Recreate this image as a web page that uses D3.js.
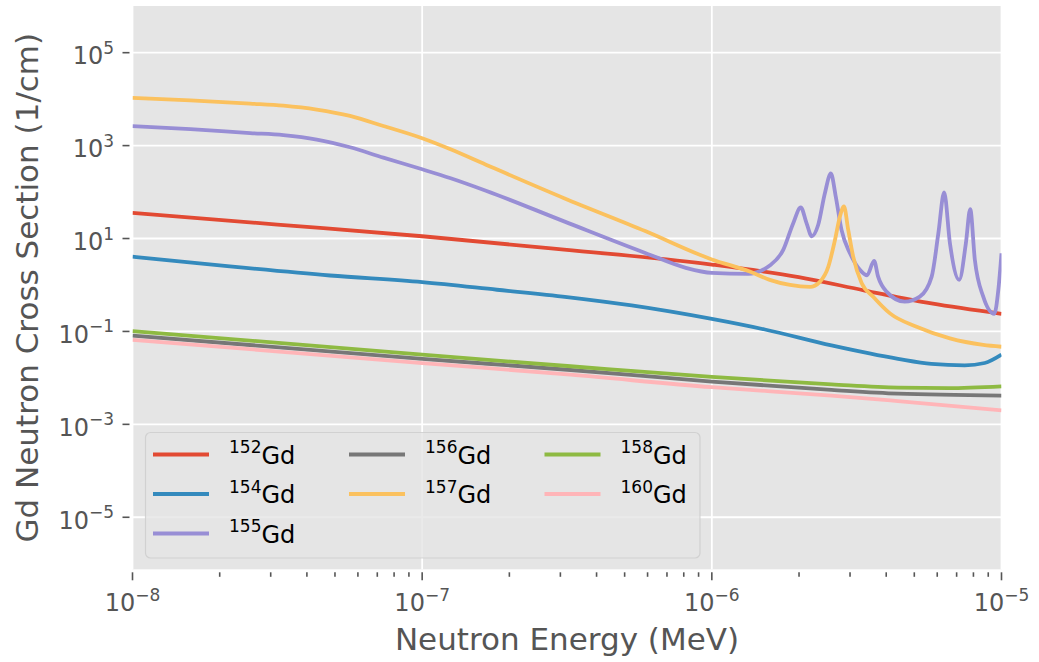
<!DOCTYPE html>
<html>
<head>
<meta charset="utf-8">
<script src="https://cdn.jsdelivr.net/npm/d3@7"></script>
<style>
  html, body { margin: 0; padding: 0; background: #ffffff; }
  svg { display: block; font-family: "DejaVu Sans", sans-serif; }
</style>
</head>
<body>
<svg id="chart" width="1039" height="662"></svg>
<script>
// Gd isotope neutron cross sections: [energy (MeV), cross section (1/cm)]
const isotopes = ["152", "154", "155", "156", "157", "158", "160"];
const colors = ["#E24A33", "#348ABD", "#988ED5", "#777777", "#FBC15E", "#8EBA42", "#FFB5B8"];

const gd152 = [[1e-8,35.5],[3.162e-8,20.0],[1e-7,11.2],[3.09e-7,5.75],[1e-6,2.75],
  [1.995e-6,1.48],[3.373e-6,0.76],[5.728e-6,0.40],[1e-5,0.24]];

const gd154 = [[1e-8,4.07],[2.168e-8,2.51],[4.808e-8,1.60],[1e-7,1.15],[1.811e-7,0.79],
  [3.162e-7,0.55],[5.284e-7,0.363],[1e-6,0.186],[1.524e-6,0.110],[2.588e-6,0.050],
  [4.395e-6,0.0257],[5.728e-6,0.020],[7.464e-6,0.0186],[8.75e-6,0.0209],[1e-5,0.0316]];

const gd155 = [[1e-8,2630],[1.585e-8,2265],[2.547e-8,1862],[3.319e-8,1679],[4.325e-8,1349],
  [5.636e-8,920],[7.345e-8,550],[1e-7,309],[1.247e-7,201],[1.66e-7,107],[3.09e-7,23.4],
  [5.888e-7,4.9],[8.128e-7,2.34],
  [1e-6,1.82],[1.334e-6,1.74],[1.585e-6,2.63],[1.762e-6,5.6],[1.91e-6,21.4],[2.028e-6,46.8],
  [2.123e-6,21.4],[2.213e-6,11.2],[2.328e-6,19.5],[2.455e-6,93],[2.576e-6,251],[2.679e-6,79],
  [2.805e-6,15.1],[2.999e-6,4.8],[3.251e-6,2.09],[3.436e-6,1.62],[3.631e-6,3.31],[3.75e-6,1.51],
  [4.009e-6,0.72],[4.634e-6,0.437],[5.224e-6,0.56],[5.741e-6,1.51],[6.053e-6,12.9],
  [6.339e-6,98],[6.637e-6,7.9],[7.145e-6,1.29],[7.534e-6,7.9],[7.798e-6,42.7],[8.091e-6,3.47],
  [8.65e-6,0.56],[9.441e-6,0.24],[9.75e-6,0.78],[1e-5,4.8]];

const gd156 = [[1e-8,0.0813],[1e-7,0.0257],[3.251e-7,0.0148],[1e-6,0.00832],
  [2.588e-6,0.0055],[4.395e-6,0.00457],[1e-5,0.00417]];

const gd157 = [[1e-8,10700],[1.585e-8,9440],[2.547e-8,8035],[3.319e-8,7244],[4.325e-8,5957],
  [5.636e-8,4345],[7.345e-8,2642],[1e-7,1440],[1.247e-7,845],[1.66e-7,389],[3.09e-7,74],
  [5.888e-7,14.5],[1e-6,3.55],
  [1.352e-6,1.95],[1.585e-6,1.29],[1.862e-6,1.0],[2.183e-6,0.91],[2.36e-6,1.17],[2.523e-6,2.45],
  [2.661e-6,9.3],[2.767e-6,29.5],[2.858e-6,49],[2.958e-6,15.1],[3.076e-6,4.07],[3.289e-6,1.10],
  [3.606e-6,0.56],[4.121e-6,0.245],[5.093e-6,0.126],[6.637e-6,0.0708],[8.65e-6,0.0513],[1e-5,0.0468]];

const gd158 = [[1e-8,0.102],[1e-7,0.0316],[3.251e-7,0.0178],[1e-6,0.0105],
  [2.588e-6,0.00724],[4.395e-6,0.00617],[6.546e-6,0.00603],[1e-5,0.0066]];

const gd160 = [[1e-8,0.066],[1e-7,0.0209],[3.251e-7,0.0117],[1e-6,0.0063],
  [2.588e-6,0.00417],[4.395e-6,0.00316],[1e-5,0.0020]];

const seriesData = [gd152, gd154, gd155, gd156, gd157, gd158, gd160];

// Axis ticks (exponents of ten)
const xTickExps = [-8, -7, -6, -5];
const yTickExps = [-5, -3, -1, 1, 3, 5];

const xLabel = "Neutron Energy (MeV)";
const yLabel = "Gd Neutron Cross Section (1/cm)";

// ---- layout ----
const svg = d3.select("#chart");
const plot = { left: 132.5, right: 1001.5, top: 6, bottom: 569.3 };

const x = d3.scaleLog().domain([1e-8, 1e-5]).range([plot.left, plot.right]);
const y = d3.scaleLog().domain([Math.pow(10, -6.12), Math.pow(10, 6.005)]).range([plot.bottom, plot.top]);

const tickGray = "#555555";
const minus = "\u2212";

// background
svg.append("rect")
  .attr("x", plot.left).attr("y", plot.top)
  .attr("width", plot.right - plot.left).attr("height", plot.bottom - plot.top)
  .attr("fill", "#E5E5E5");

// grid lines
const grid = svg.append("g").attr("stroke", "#ffffff").attr("stroke-width", 1.8);
grid.selectAll("line.gx").data(xTickExps).join("line")
  .attr("x1", d => x(Math.pow(10, d))).attr("x2", d => x(Math.pow(10, d)))
  .attr("y1", plot.top).attr("y2", plot.bottom);
grid.selectAll("line.gy").data(yTickExps).join("line")
  .attr("y1", d => y(Math.pow(10, d))).attr("y2", d => y(Math.pow(10, d)))
  .attr("x1", plot.left).attr("x2", plot.right);

// x ticks: majors at decades, minors at 2..9
const xMinor = [];
for (let e = -8; e < -5; e++) for (let m = 2; m <= 9; m++) xMinor.push(m * Math.pow(10, e));
const ticks = svg.append("g").attr("stroke", tickGray).attr("stroke-width", 1.6);
ticks.selectAll("line.xmaj").data(xTickExps).join("line")
  .attr("x1", d => x(Math.pow(10, d))).attr("x2", d => x(Math.pow(10, d)))
  .attr("y1", plot.bottom + 3).attr("y2", plot.bottom + 11);
ticks.selectAll("line.xmin").data(xMinor).join("line")
  .attr("x1", d => x(d)).attr("x2", d => x(d))
  .attr("y1", plot.bottom + 3).attr("y2", plot.bottom + 7.5);
ticks.selectAll("line.ymaj").data(yTickExps).join("line")
  .attr("y1", d => y(Math.pow(10, d))).attr("y2", d => y(Math.pow(10, d)))
  .attr("x1", plot.left - 10).attr("x2", plot.left - 3);

// power-of-ten tick label
function powLabel(sel, exp) {
  sel.append("tspan").attr("font-size", 24).text("10");
  sel.append("tspan").attr("font-size", 17).attr("dy", -10.5)
    .text(exp < 0 ? minus + Math.abs(exp) : String(exp));
}

svg.append("g").selectAll("text").data(xTickExps).join("text")
  .attr("x", d => x(Math.pow(10, d)))
  .attr("y", 611)
  .attr("text-anchor", "middle")
  .attr("fill", tickGray)
  .each(function(d) { powLabel(d3.select(this), d); });

svg.append("g").selectAll("text").data(yTickExps).join("text")
  .attr("x", 114)
  .attr("y", d => y(Math.pow(10, d)) + 11.5)
  .attr("text-anchor", "end")
  .attr("fill", tickGray)
  .each(function(d) { powLabel(d3.select(this), d); });

// axis titles
svg.append("text")
  .attr("x", (plot.left + plot.right) / 2).attr("y", 650)
  .attr("text-anchor", "middle").attr("font-size", 31).attr("fill", tickGray)
  .text(xLabel);
svg.append("text")
  .attr("transform", `translate(38,${(plot.top + plot.bottom) / 2}) rotate(-90)`)
  .attr("text-anchor", "middle").attr("font-size", 31).attr("fill", tickGray)
  .text(yLabel);

// curves
svg.append("clipPath").attr("id", "plotclip").append("rect")
  .attr("x", plot.left).attr("y", plot.top)
  .attr("width", plot.right - plot.left).attr("height", plot.bottom - plot.top);

const line = d3.line()
  .x(d => x(d[0])).y(d => y(d[1]))
  .curve(d3.curveMonotoneX);

svg.append("g").attr("clip-path", "url(#plotclip)")
  .selectAll("path").data(seriesData).join("path")
  .attr("d", line)
  .attr("fill", "none")
  .attr("stroke", (d, i) => colors[i])
  .attr("stroke-width", 3.8)
  .attr("stroke-linejoin", "round")
  .attr("stroke-linecap", "butt");

// legend (3 columns, filled column by column)
const legend = svg.append("g");
legend.append("rect")
  .attr("x", 145.5).attr("y", 432.5).attr("width", 554.5).attr("height", 125.5)
  .attr("rx", 5).attr("ry", 5)
  .attr("fill", "#E5E5E5").attr("fill-opacity", 0.8)
  .attr("stroke", "#CCCCCC").attr("stroke-opacity", 0.8).attr("stroke-width", 1.2);

const colX = [153, 349, 544.5];
const rowY = [454.5, 494, 533.5];
const perCol = [3, 2, 2];
let k = 0;
perCol.forEach((n, c) => {
  for (let r = 0; r < n; r++, k++) {
    const g = legend.append("g");
    g.append("line")
      .attr("x1", colX[c]).attr("x2", colX[c] + 56)
      .attr("y1", rowY[r]).attr("y2", rowY[r])
      .attr("stroke", colors[k]).attr("stroke-width", 3.8);
    const t = g.append("text")
      .attr("x", colX[c] + 76).attr("y", rowY[r] + 9)
      .attr("fill", "#000000");
    t.append("tspan").attr("font-size", 17).attr("dy", -10.5).text(isotopes[k]);
    t.append("tspan").attr("font-size", 24).attr("dy", 10.5).text("Gd");
  }
});
</script>
</body>
</html>
